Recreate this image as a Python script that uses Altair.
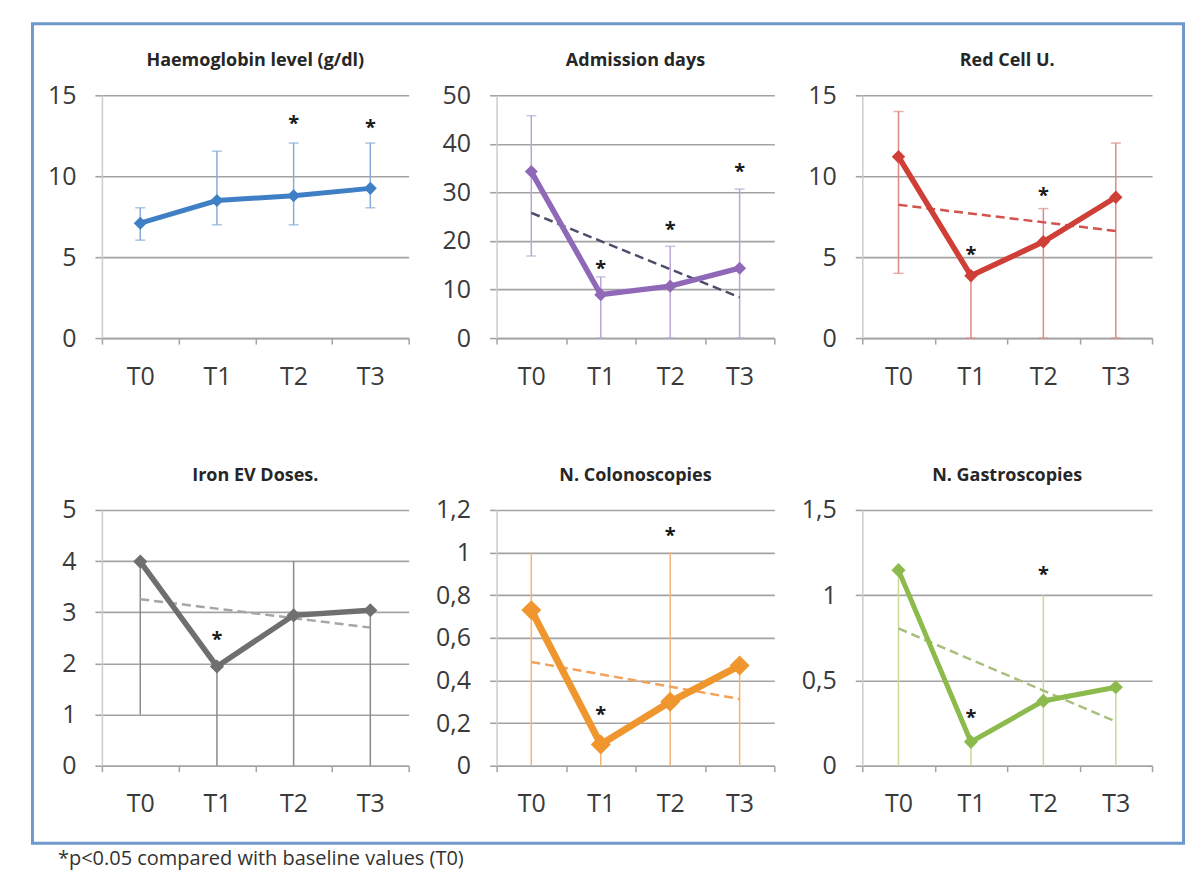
import altair as alt
import pandas as pd

categories = ["T0", "T1", "T2", "T3"]
cat_index = [0, 1, 2, 3]

titles = ["Haemoglobin level (g/dl)", "Admission days", "Red Cell U.",
          "Iron EV Doses.", "N. Colonoscopies", "N. Gastroscopies"]

# Haemoglobin
hb_mean = [7.1, 8.5, 8.8, 9.25]
hb_low = [6.05, 7.0, 7.0, 8.05]
hb_high = [8.05, 11.55, 12.05, 12.05]
hb_star_t = ["T2", "T3"]
hb_star_y = [13.55, 13.3]
hb_ticks = [0, 5, 10, 15]

# Admission days
adm_mean = [34.3, 8.95, 10.7, 14.4]
adm_low = [16.9, 0, 0, 0]
adm_high = [45.8, 12.6, 18.9, 30.7]
adm_star_t = ["T1", "T2", "T3"]
adm_star_y = [15.2, 23.2, 35.2]
adm_ticks = [0, 10, 20, 30, 40, 50]

# Red cell units
rcu_mean = [11.2, 3.85, 5.95, 8.7]
rcu_low = [4.0, 0, 0, 0]
rcu_high = [14.0, 3.85, 8.0, 12.05]
rcu_star_t = ["T1", "T2"]
rcu_star_y = [5.45, 9.1]
rcu_ticks = [0, 5, 10, 15]

# Iron EV doses
iron_mean = [3.99, 1.94, 2.94, 3.04]
iron_low = [1.0, 0, 0, 0]
iron_high = [3.99, 1.94, 4.0, 3.04]
iron_star_t = ["T1"]
iron_star_y = [2.55]
iron_ticks = [0, 1, 2, 3, 4, 5]

# Colonoscopies
col_mean = [0.73, 0.10, 0.30, 0.47]
col_low = [0, 0, 0, 0]
col_high = [1.0, 0.10, 1.0, 0.47]
col_star_t = ["T1", "T2"]
col_star_y = [0.26, 1.10]
col_ticks = [0, 0.2, 0.4, 0.6, 0.8, 1.0, 1.2]

# Gastroscopies
gas_mean = [1.147, 0.14, 0.38, 0.46]
gas_low = [0, 0, 0, 0]
gas_high = [1.147, 0.14, 1.0, 0.46]
gas_star_t = ["T1", "T2"]
gas_star_y = [0.31, 1.15]
gas_ticks = [0, 0.5, 1.0, 1.5]

footnote = "*p<0.05 compared with baseline values (T0)"

panels_data = [
    dict(mean=hb_mean, low=hb_low, high=hb_high, st=hb_star_t, sy=hb_star_y, ticks=hb_ticks),
    dict(mean=adm_mean, low=adm_low, high=adm_high, st=adm_star_t, sy=adm_star_y, ticks=adm_ticks),
    dict(mean=rcu_mean, low=rcu_low, high=rcu_high, st=rcu_star_t, sy=rcu_star_y, ticks=rcu_ticks),
    dict(mean=iron_mean, low=iron_low, high=iron_high, st=iron_star_t, sy=iron_star_y, ticks=iron_ticks),
    dict(mean=col_mean, low=col_low, high=col_high, st=col_star_t, sy=col_star_y, ticks=col_ticks),
    dict(mean=gas_mean, low=gas_low, high=gas_high, st=gas_star_t, sy=gas_star_y, ticks=gas_ticks),
]

# styles
line_colors = ["#3f7fc6", "#8f68b8", "#cf3f38", "#6f6f6f", "#f0962f", "#8cba4c"]
err_colors = ["#86acd9", "#b9a6d4", "#dc8a86", "#8a8a8a", "#f5b575", "#c8da96"]
trend_colors = [None, "#4e4b6b", "#d4524c", "#a6a6a6", "#f2a25a", "#a9bf7e"]
has_caps = [True, True, True, False, False, False]
marker_sizes = [170, 170, 180, 200, 400, 200]
line_widths = [5, 5.5, 5.5, 5.5, 7, 5]
col_widths = [307, 278, 290]
row_heights = [243, 256]

FONT = "Open Sans"
GRID = "#a3a3a3"


def make_panel(i):
    d = panels_data[i]
    w = col_widths[i % 3]
    h = row_heights[i // 3]
    df = pd.DataFrame({"t": categories, "idx": cat_index,
                       "mean": d["mean"], "low": d["low"], "high": d["high"]})
    sdf = pd.DataFrame({"t": d["st"], "sy": d["sy"]})
    one = pd.DataFrame({"a": [0]})
    ymax = d["ticks"][-1]

    xenc = alt.X("t:N", sort=categories, title=None,
                 scale=alt.Scale(type="band", domain=categories, paddingInner=0, paddingOuter=0),
                 axis=alt.Axis(tickBand="extent", labelAngle=0, labelFontSize=25, labelFont=FONT,
                               labelColor="#3a3a3a", labelPadding=20, domainColor=GRID,
                               domainWidth=1.5, tickColor=GRID, tickWidth=1.5, tickSize=6,
                               grid=False))
    yscale = alt.Scale(domain=[0, ymax], nice=False, zero=True)
    yaxis = alt.Axis(values=d["ticks"], grid=True, gridColor=GRID, gridWidth=1.6,
                     domainColor="#cccccc", domainWidth=1.5, tickColor=GRID, tickWidth=1.6,
                     tickSize=7, labelFontSize=25, labelFont=FONT, labelColor="#3a3a3a",
                     labelPadding=19, labelExpr="replace(toString(datum.value), '.', ',')")

    def Y(field):
        return alt.Y(field, scale=yscale, axis=yaxis, title=None)

    base = alt.Chart(df)
    layers = []
    if i == 0:
        layers.append(alt.Chart(one).mark_rect(fillOpacity=0, stroke="#7099cc", strokeWidth=3).encode(
            x=alt.value(-69.5), x2=alt.value(1082.5), y=alt.value(-71.5), y2=alt.value(748.5)))
    layers.append(base.mark_rule(color=err_colors[i], strokeWidth=1.5).encode(
        x=xenc, y=Y("low:Q"), y2="high:Q"))
    if has_caps[i]:
        layers.append(base.mark_tick(color=err_colors[i], size=10, thickness=1.5).encode(
            x=xenc, y=Y("high:Q")))
        layers.append(base.mark_tick(color=err_colors[i], size=10, thickness=1.5).encode(
            x=xenc, y=Y("low:Q")))
    if trend_colors[i]:
        layers.append(base.transform_regression("idx", "mean", method="linear", extent=[0, 3])
                      .transform_calculate(t="'T' + round(datum.idx)")
                      .mark_line(color=trend_colors[i], strokeWidth=2.5, strokeDash=[9, 5])
                      .encode(x=xenc, y=Y("mean:Q")))
    layers.append(base.mark_line(color=line_colors[i], strokeWidth=line_widths[i]).encode(
        x=xenc, y=Y("mean:Q")))
    layers.append(base.mark_point(shape="diamond", filled=True, opacity=1,
                                  color=line_colors[i], size=marker_sizes[i]).encode(
        x=xenc, y=Y("mean:Q")))
    layers.append(alt.Chart(sdf).mark_text(text="*", fontSize=20, fontWeight="bold",
                                           font=FONT, color="#1a1a1a", dy=5).encode(
        x=xenc, y=Y("sy:Q")))
    # panel title
    layers.append(alt.Chart(one).mark_text(text=titles[i], fontSize=18, font=FONT,
                                           fontWeight="bold", color="#262626",
                                           align="center", baseline="middle").encode(
        x=alt.value(w / 2), y=alt.value(-34)))
    if i == 0:
        layers.append(alt.Chart(one).mark_text(text=footnote, fontSize=20, font=FONT,
                                               color="#333333", align="left", baseline="middle").encode(
            x=alt.value(-44), y=alt.value(764.5)))

    return alt.layer(*layers).properties(width=w, height=h)


panels = [make_panel(i) for i in range(6)]

chart = alt.concat(*panels, columns=3, spacing={"row": 172, "column": 88}, bounds="flush").properties(
    padding={"left": 22, "top": 13, "right": 0, "bottom": 0}, background="white"
).configure_view(stroke="transparent")

chart.save("out.html", embed_options={"renderer": "svg", "actions": False})
